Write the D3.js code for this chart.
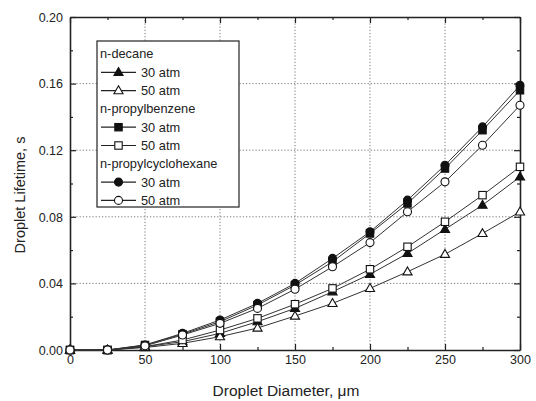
<!DOCTYPE html>
<html><head><meta charset="utf-8">
<script src="https://cdn.jsdelivr.net/npm/d3@7"></script>
<style>body{margin:0;background:#fff}svg{display:block}text{font-family:Arial,"Liberation Sans",sans-serif;fill:#222}</style>
</head><body><svg id="c" width="536" height="401"></svg>
<script>
const diameters = [0,25,50,75,100,125,150,175,200,225,250,275,300];
const decane30 = [0,0,0.002,0.005,0.010,0.017,0.025,0.035,0.0455,0.058,0.0725,0.087,0.104];
const decane50 = [0,0,0.0015,0.004,0.008,0.0132,0.0204,0.028,0.037,0.047,0.0575,0.070,0.083];
const benzene30 = [0,0,0.003,0.0095,0.017,0.027,0.039,0.053,0.070,0.088,0.109,0.132,0.156];
const benzene50 = [0,0,0.002,0.006,0.012,0.019,0.0275,0.037,0.0485,0.062,0.077,0.093,0.110];
const cyclo30 = [0,0,0.003,0.010,0.018,0.028,0.040,0.055,0.071,0.090,0.111,0.134,0.159];
const cyclo50 = [0,0,0.0025,0.009,0.016,0.025,0.0365,0.050,0.0645,0.083,0.101,0.123,0.147];
const xTicks = [0,50,100,150,200,250,300];
const yTicks = [0,0.04,0.08,0.12,0.16,0.20];
const xLabel = "Droplet Diameter, \u03bcm";
const yLabel = "Droplet Lifetime, s";

const series = [
  {group:"n-decane", label:"30 atm", vals:decane30, shape:"tri", fill:true},
  {group:"n-decane", label:"50 atm", vals:decane50, shape:"tri", fill:false},
  {group:"n-propylbenzene", label:"30 atm", vals:benzene30, shape:"sq", fill:true},
  {group:"n-propylbenzene", label:"50 atm", vals:benzene50, shape:"sq", fill:false},
  {group:"n-propylcyclohexane", label:"30 atm", vals:cyclo30, shape:"circ", fill:true},
  {group:"n-propylcyclohexane", label:"50 atm", vals:cyclo50, shape:"circ", fill:false}
];

const L=70, R=520, T=17, B=350;
const svg = d3.select("#c");
const x = d3.scaleLinear().domain([0,300]).range([L,R]);
const y = d3.scaleLinear().domain([0,0.2]).range([B,T]);

// grid
svg.append("g").selectAll("line").data(xTicks.filter(d=>d>0&&d<300)).join("line")
  .attr("x1",d=>x(d)).attr("x2",d=>x(d)).attr("y1",T).attr("y2",B)
  .attr("stroke","#555").attr("stroke-width",0.8).attr("stroke-dasharray","1.2,2");
svg.append("g").selectAll("line").data(yTicks.filter(d=>d>0&&d<0.2)).join("line")
  .attr("y1",d=>y(d)).attr("y2",d=>y(d)).attr("x1",L).attr("x2",R)
  .attr("stroke","#555").attr("stroke-width",0.8).attr("stroke-dasharray","1.2,2");

// axes
const minorX = d3.range(0,301,25), minorY = d3.range(0,0.2001,0.02);
const isMajY = d=>yTicks.some(t=>Math.abs(t-d)<1e-9);
const axB = d3.axisBottom(x).tickValues(minorX).tickSizeInner(-4).tickSizeOuter(0).tickFormat(d=>xTicks.includes(d)?d3.format("d")(d):"").tickPadding(12);
const gB = svg.append("g").attr("transform",`translate(0,${B})`).call(axB);
gB.selectAll(".tick line").attr("y2",d=>xTicks.includes(d)?-6:-3);
const axT = d3.axisTop(x).tickValues(minorX).tickSizeInner(-4).tickSizeOuter(0).tickFormat("");
const gT = svg.append("g").attr("transform",`translate(0,${T})`).call(axT);
gT.selectAll(".tick line").attr("y2",d=>xTicks.includes(d)?6:3);
const axL = d3.axisLeft(y).tickValues(minorY).tickSizeInner(-4).tickSizeOuter(0)
  .tickFormat(d=>isMajY(d)?d3.format(".2f")(d):"").tickPadding(7);
const gL = svg.append("g").attr("transform",`translate(${L},0)`).call(axL);
gL.selectAll(".tick line").attr("x2",d=>isMajY(d)?6:3);
const axR = d3.axisRight(y).tickValues(minorY).tickSizeInner(-4).tickSizeOuter(0).tickFormat("");
const gR = svg.append("g").attr("transform",`translate(${R},0)`).call(axR);
gR.selectAll(".tick line").attr("x2",d=>isMajY(d)?-6:-3);
[gB,gT,gL,gR].forEach(g=>{g.select(".domain").attr("stroke","#222").attr("stroke-width",1.6);
  g.selectAll(".tick line").attr("stroke","#222").attr("stroke-width",1.2);
  g.selectAll("text").attr("font-size",12.5).attr("fill","#222").attr("font-family","Arial, Liberation Sans, sans-serif");});
gL.selectAll(".tick text").attr("dy","0.35em");
gB.selectAll(".tick text").attr("dy","0.15em");

svg.append("text").attr("x",286).attr("y",396).attr("text-anchor","middle").attr("font-size",15.5).text(xLabel);
svg.append("text").attr("transform",`translate(25,195) rotate(-90)`).attr("text-anchor","middle").attr("font-size",14.5).text(yLabel);

// symbols
function drawSym(g, cx, cy, s){
  const col="#111", sw=1.1;
  let el;
  if(s.shape==="tri"){
    const r=4.8;
    el=g.append("path").attr("d",`M${cx},${cy-r}L${cx+r*0.95},${cy+r*0.65}L${cx-r*0.95},${cy+r*0.65}Z`);
  } else if(s.shape==="sq"){
    el=g.append("rect").attr("x",cx-3.7).attr("y",cy-3.7).attr("width",7.4).attr("height",7.4);
  } else {
    el=g.append("circle").attr("cx",cx).attr("cy",cy).attr("r",4);
  }
  el.attr("fill",s.fill?col:"#fff").attr("stroke",col).attr("stroke-width",sw);
}

const line = d3.line().x(d=>x(d[0])).y(d=>y(d[1]));
const plot = svg.append("g");
series.forEach(s=>{
  plot.append("path").datum(diameters.map((d,i)=>[d,s.vals[i]])).attr("d",line)
    .attr("fill","none").attr("stroke","#333").attr("stroke-width",1);
});
series.forEach(s=>{
  const g = plot.append("g");
  diameters.forEach((d,i)=>drawSym(g,x(d),y(s.vals[i]),s));
});

// legend
const lg = svg.append("g");
lg.append("rect").attr("x",97).attr("y",41).attr("width",142).attr("height",166)
  .attr("fill","#fff").attr("stroke","#222").attr("stroke-width",1.2);
let row=0; const rowH=18.3, y0=54;
let lastGroup=null;
series.forEach(s=>{
  if(s.group!==lastGroup){
    lg.append("text").attr("x",100).attr("y",y0+row*rowH).attr("dy","0.35em").attr("font-size",12.8).text(s.group);
    row++; lastGroup=s.group;
  }
  const cy=y0+row*rowH;
  lg.append("line").attr("x1",101).attr("x2",136).attr("y1",cy).attr("y2",cy).attr("stroke","#222").attr("stroke-width",1.2);
  const sg=lg.append("g");
  drawSym(sg,118.5,cy,s);
  lg.append("text").attr("x",141).attr("y",cy).attr("dy","0.35em").attr("font-size",12.8).text(s.label);
  row++;
});
</script></body></html>
